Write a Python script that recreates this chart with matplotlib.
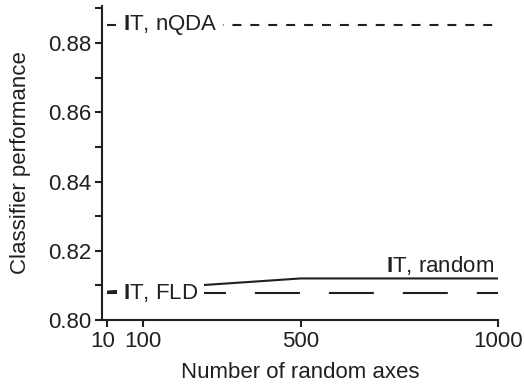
import numpy as np
import matplotlib
matplotlib.use('Agg')
import matplotlib.pyplot as plt
import matplotlib.transforms as mtransforms
from matplotlib.ticker import MultipleLocator

plt.rcParams['font.family'] = ['Liberation Sans', 'DejaVu Sans']
plt.rcParams['mathtext.fontset'] = 'custom'
plt.rcParams['mathtext.bf'] = 'Liberation Sans:bold'
plt.rcParams['mathtext.rm'] = 'Liberation Sans'

ink = '#231f20'

# values
n_axes = [10, 100, 500, 1000]
perf_random = [0.8082, 0.8089, 0.8120, 0.8120]
perf_fld = 0.8077
perf_nqda = 0.8852
x_ticks = [10, 100, 500, 1000]
y_ticks = [0.80, 0.82, 0.84, 0.86, 0.88]

fig = plt.figure(figsize=(5.24, 3.92), dpi=100)
ax = fig.add_axes([0.1947, 0.1837, 0.7557, 0.801])

lw = 1.5
ax.plot(n_axes, perf_random, color=ink, lw=lw, solid_capstyle='butt')
ax.plot([n_axes[0], n_axes[-1]], [perf_fld, perf_fld], color=ink, lw=lw,
        dashes=(21.6, 13.9), dash_capstyle='butt')
ax.plot([n_axes[0], n_axes[-1]], [perf_nqda, perf_nqda], color=ink, lw=lw,
        dashes=(4.3, 4.3), dash_capstyle='butt')

box = dict(facecolor='white', edgecolor='none', pad=4)
ax.text(50, perf_nqda, r'$\mathbf{I}$T, nQDA', fontsize=16, color=ink,
        ha='left', va='center', bbox=box)
ax.text(50, perf_fld, r'$\mathbf{I}$T, FLD', fontsize=16, color=ink,
        ha='left', va='center', bbox=box)
ax.text(990, 0.8139, r'$\mathbf{I}$T, random', fontsize=16, color=ink,
        ha='right', va='baseline')

ax.set_xlim(-3, 1000)
ax.set_ylim(0.80, 0.8907)
ax.set_xticks(x_ticks)
ax.set_yticks(y_ticks)
ax.set_yticklabels(['%.2f' % v for v in y_ticks])
ax.yaxis.set_minor_locator(MultipleLocator(0.01))

for s in ['top', 'right']:
    ax.spines[s].set_visible(False)
for s in ['left', 'bottom']:
    ax.spines[s].set_linewidth(1.5)
    ax.spines[s].set_color(ink)
ax.tick_params(which='both', direction='out', length=5, width=1.5, labelsize=16,
               pad=3, color=ink, labelcolor=ink)

# nudge the "10" label left so it clears "100"
lab10 = ax.get_xticklabels()[0]
lab10.set_transform(lab10.get_transform() +
                    mtransforms.ScaledTranslation(-3 / 72, 0, fig.dpi_scale_trans))

ax.set_xlabel('Number of random axes', fontsize=16, labelpad=7, color=ink)
ax.set_ylabel('Classifier performance', fontsize=16, color=ink)
ax.yaxis.set_label_coords(-0.18, 0.5)

fig.savefig('out.png', dpi=100)
